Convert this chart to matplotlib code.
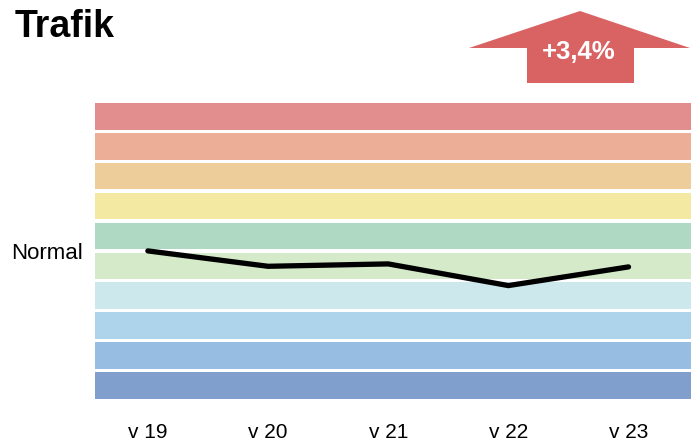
import matplotlib
matplotlib.use("Agg")
import matplotlib.pyplot as plt
from matplotlib.patches import Polygon

plt.rcParams['font.family'] = ['Liberation Sans', 'DejaVu Sans']

# data
weeks = ["v 19", "v 20", "v 21", "v 22", "v 23"]
traffic = [0.0, -0.515, -0.435, -1.16, -0.535]   # in band units, 0 = normal
change_text = "+3,4%"
band_colors = ["#e28e8e", "#ecae96", "#edcd9a", "#f3e9a3", "#b0d9c4",
               "#d5eac8", "#cde8ec", "#add4ea", "#98bde2", "#809fcd"]

W, H = 691, 441
fig = plt.figure(figsize=(W / 100, H / 100), dpi=100)

# axes placed in pixel terms
left, right, top, bottom = 95, 691, 101.4, 400.4
ax = fig.add_axes([left / W, 1 - bottom / H, (right - left) / W, (bottom - top) / H])

gap = 0.11
n = len(band_colors)
for k, c in enumerate(band_colors):
    hi = n / 2 - k - gap / 2
    lo = n / 2 - k - 1 + gap / 2
    ax.axhspan(lo, hi, color=c, lw=0, zorder=1)

x = list(range(len(weeks)))
ax.plot(x, traffic, color="black", lw=3.8, solid_capstyle="round",
        solid_joinstyle="miter", zorder=3)

ax.set_xlim(-0.44, 4.52)
ax.set_ylim(-n / 2, n / 2)
ax.set_xticks(x)
ax.set_xticklabels(weeks, fontsize=15)
ax.set_yticks([0])
ax.set_yticklabels(["Normal"], fontsize=16)
ax.tick_params(axis="x", length=0, pad=16)
ax.tick_params(axis="y", length=0, pad=9)
for s in ax.spines.values():
    s.set_visible(False)

fig.text(15 / W, 1 - 9 / H, "Trafik", fontsize=27, fontweight="bold",
         ha="left", va="top")

# change arrow (pixel geometry of the badge)
arrow_px = [(580, 11), (690, 48), (634, 48), (634, 83),
            (527, 83), (527, 48), (469, 48)]
arrow = Polygon([(px / W, 1 - py / H) for px, py in arrow_px], closed=True,
                transform=fig.transFigure, facecolor="#d96362",
                edgecolor="none")
fig.patches.append(arrow)
fig.text(579 / W, 1 - 52 / H, change_text, fontsize=18.5, fontweight="bold",
         color="white", ha="center", va="center")

fig.savefig("out.png", dpi=100)
